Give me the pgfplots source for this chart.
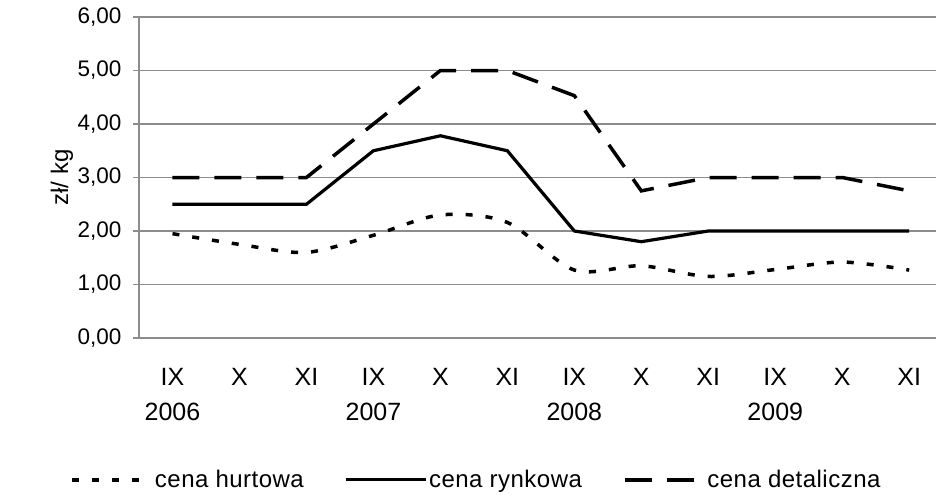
\documentclass[border=0pt]{standalone}
\usepackage{fontspec}
\setmainfont{Liberation Sans}
\usepackage{pgfplots}
\pgfplotsset{compat=1.18}
\definecolor{gridgray}{RGB}{140,140,140}
\begin{document}
\begin{tikzpicture}[x=1pt,y=1pt]
\path[use as bounding box] (0,0) rectangle (936,496);
\begin{axis}[
 at={(139pt,158pt)}, anchor=south west,
 scale only axis, width=797pt, height=321pt,
 xmin=-0.5, xmax=11.4, ymin=0, ymax=6,
 axis x line=bottom, axis y line=left,
 axis line style={draw=gridgray, line width=1.2pt, -},
 ytick={0,1,2,3,4,5,6},
 ymajorgrids, grid style={gridgray, line width=1.2pt},
 tick align=outside,
 major tick length=6pt,
 tick style={gridgray, line width=1.2pt},
 xtick={0,...,11},
 x tick style={draw=none},
 minor xtick={-0.5,0.5,...,10.5},
 minor tick length=7pt,
 minor x tick style={gridgray, line width=1.2pt},
 xticklabels={{IX\\2006},X,XI,{IX\\2007},X,XI,{IX\\2008},X,XI,{IX\\2009},X,XI},
 xticklabel style={align=center, font=\fontsize{25}{35}\selectfont, yshift=-21pt},
 yticklabel style={font=\fontsize{22.5}{26}\selectfont, xshift=-8pt},
 /pgf/number format/.cd, fixed, fixed zerofill, precision=2, use comma, assume math mode=true,
 /pgfplots/.cd,
 ylabel={zł/ kg},
 ylabel style={at={(axis description cs:-0.0966,0.5)}, anchor=center, font=\fontsize{24}{28}\selectfont},
 legend columns=3,
 legend style={at={(axis description cs:0.4228,-0.442)}, anchor=center, draw=none, fill=none,
   font=\fontsize{24}{28}\selectfont\addfontfeature{LetterSpace=2},
   /tikz/every even column/.append style={column sep=40pt},
   nodes={inner sep=1pt}},
 legend image code/.code={\draw[#1] (0pt,0pt) -- (80pt,0pt);},
 clip=false,
]
\addplot[black, line width=3.5pt, dash pattern=on 7pt off 13pt, smooth] coordinates {
(0,1.95) (1,1.75) (2,1.60) (3,1.92) (4,2.30) (5,2.16) (6,1.27) (7,1.35) (8,1.15) (9,1.28) (10,1.42) (11,1.27)};
\addlegendentry{cena hurtowa}
\addplot[black, line width=3.2pt] coordinates {
(0,2.5) (1,2.5) (2,2.5) (3,3.5) (4,3.78) (5,3.5) (6,2.0) (7,1.8) (8,2.0) (9,2.0) (10,2.0) (11,2.0)};
\addlegendentry{cena rynkowa}
\addplot[black, line width=3.5pt, dash pattern=on 27pt off 15pt] coordinates {
(0,3.0) (1,3.0) (2,3.0) (3,4.0) (4,5.0) (5,5.0) (6,4.53) (7,2.75) (8,3.0) (9,3.0) (10,3.0) (11,2.75)};
\addlegendentry{cena detaliczna}
\end{axis}
\end{tikzpicture}
\end{document}
